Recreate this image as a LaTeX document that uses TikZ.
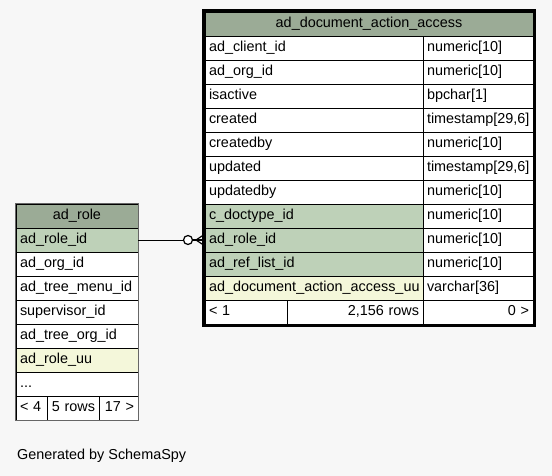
\documentclass[tikz,border=0pt]{standalone}
\usepackage{fontspec}
\setmainfont{Liberation Sans}
\usepackage{tikz}
\definecolor{pagebg}{RGB}{247,247,247}
\definecolor{hdrgreen}{RGB}{155,171,150}
\definecolor{keygreen}{RGB}{190,209,184}
\definecolor{uuyellow}{RGB}{244,247,218}
\tikzset{
  cell/.style={draw=black, line width=0.8pt, rectangle, anchor=north west, minimum height=24pt,
    inner xsep=4pt, inner ysep=0pt, outer sep=0pt, fill=white, text height=10.5pt, text depth=3pt,
    font=\fontsize{14.4}{16}\selectfont},
  lcell/.style={cell, text width=#1-8pt, align=left},
  rcell/.style={cell, text width=#1-8pt, align=right},
  hcell/.style={cell, fill=hdrgreen, text width=#1-8pt, align=center},
}
\begin{document}
\begin{tikzpicture}[x=1pt, y=-1pt]
\useasboundingbox[fill=pagebg] (0,0) rectangle (552,476);
% ad_document_action_access
\node[hcell=328pt] (da-hdr) at (205,12) {ad\_document\_action\_access};
\node[lcell=218pt] (da-c1) at (da-hdr.south west) {ad\_client\_id};
\node[lcell=110pt] (da-t1) at (da-c1.north east) {numeric[10]};
\node[lcell=218pt] (da-c2) at (da-c1.south west) {ad\_org\_id};
\node[lcell=110pt] (da-t2) at (da-c2.north east) {numeric[10]};
\node[lcell=218pt] (da-c3) at (da-c2.south west) {isactive};
\node[lcell=110pt] (da-t3) at (da-c3.north east) {bpchar[1]};
\node[lcell=218pt] (da-c4) at (da-c3.south west) {created};
\node[lcell=110pt] (da-t4) at (da-c4.north east) {timestamp[29,6]};
\node[lcell=218pt] (da-c5) at (da-c4.south west) {createdby};
\node[lcell=110pt] (da-t5) at (da-c5.north east) {numeric[10]};
\node[lcell=218pt] (da-c6) at (da-c5.south west) {updated};
\node[lcell=110pt] (da-t6) at (da-c6.north east) {timestamp[29,6]};
\node[lcell=218pt] (da-c7) at (da-c6.south west) {updatedby};
\node[lcell=110pt] (da-t7) at (da-c7.north east) {numeric[10]};
\node[lcell=218pt, fill=keygreen] (da-c8) at (da-c7.south west) {c\_doctype\_id};
\node[lcell=110pt] (da-t8) at (da-c8.north east) {numeric[10]};
\node[lcell=218pt, fill=keygreen] (da-roleid) at (da-c8.south west) {ad\_role\_id};
\node[lcell=110pt] (da-t9) at (da-roleid.north east) {numeric[10]};
\node[lcell=218pt, fill=keygreen] (da-c10) at (da-roleid.south west) {ad\_ref\_list\_id};
\node[lcell=110pt] (da-t10) at (da-c10.north east) {numeric[10]};
\node[lcell=218pt, fill=uuyellow] (da-c11) at (da-c10.south west) {ad\_document\_action\_access\_uu};
\node[lcell=110pt] (da-t11) at (da-c11.north east) {varchar[36]};
\node[lcell=82pt] (da-f1) at (da-c11.south west) {< 1};
\node[rcell=136pt] (da-f2) at (da-f1.north east) {2,156 rows};
\node[rcell=110pt] (da-f3) at (da-f2.north east) {0 >};
\draw[line width=2.6pt] ([shift={(-1.5pt,1.5pt)}]da-hdr.north west) rectangle ([shift={(1.5pt,-1.5pt)}]da-f3.south east);
% ad_role
\node[hcell=122pt] (ro-hdr) at (16,204) {ad\_role};
\node[lcell=122pt, fill=keygreen] (ro-id) at (ro-hdr.south west) {ad\_role\_id};
\node[lcell=122pt] (ro-c2) at (ro-id.south west) {ad\_org\_id};
\node[lcell=122pt] (ro-c3) at (ro-c2.south west) {ad\_tree\_menu\_id};
\node[lcell=122pt] (ro-c4) at (ro-c3.south west) {supervisor\_id};
\node[lcell=122pt] (ro-c5) at (ro-c4.south west) {ad\_tree\_org\_id};
\node[lcell=122pt, fill=uuyellow] (ro-c6) at (ro-c5.south west) {ad\_role\_uu};
\node[lcell=122pt] (ro-more) at (ro-c6.south west) {...};
\node[lcell=31pt] (ro-f1) at (ro-more.south west) {< 4};
\node[rcell=52pt] (ro-f2) at (ro-f1.north east) {5 rows};
\node[rcell=39pt] (ro-f3) at (ro-f2.north east) {17 >};
\draw[black!60, line width=1pt] ([shift={(-0.5pt,0.5pt)}]ro-hdr.north west) rectangle ([shift={(0.5pt,-0.5pt)}]ro-f3.south east);
% relationship
\node[circle, draw, line width=1.2pt, fill=white, minimum size=9pt, inner sep=0pt] (ring) at (188,240) {};
\coordinate (fork) at (196,240);
\draw[line width=0.9pt] (ro-id.east) -- (ring.west);
\draw[line width=1.2pt] (ring.east) -- ([xshift=-1.5pt]da-roleid.west);
\draw[line width=1.2pt] (fork) -- ([shift={(-1.5pt,5pt)}]da-roleid.west);
\draw[line width=1.2pt] (fork) -- ([shift={(-1.5pt,-5pt)}]da-roleid.west);
\node[anchor=west, inner sep=0pt, font=\fontsize{14.4}{16}\selectfont] (credit) at (17,456) {Generated by SchemaSpy};
\end{tikzpicture}
\end{document}
